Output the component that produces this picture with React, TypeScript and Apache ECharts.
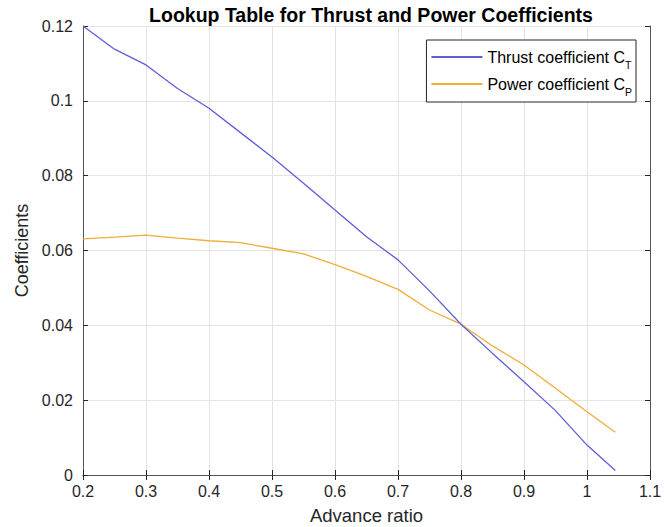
import React, { useEffect, useRef } from "react";
import * as echarts from "echarts";

const advanceRatio = [0.2, 0.25, 0.3, 0.35, 0.4, 0.45, 0.5, 0.55, 0.6, 0.65, 0.7, 0.75, 0.8, 0.85, 0.9, 0.95, 1.0, 1.045];
const thrustCoef = [0.12, 0.1138, 0.1096, 0.1033, 0.098, 0.0915, 0.085, 0.078, 0.0708, 0.0637, 0.0575, 0.0492, 0.0403, 0.0325, 0.0249, 0.0172, 0.008, 0.0012];
const powerCoef = [0.0631, 0.0636, 0.0641, 0.0633, 0.0626, 0.0621, 0.0606, 0.0591, 0.0562, 0.0531, 0.0496, 0.0441, 0.0403, 0.0345, 0.0294, 0.0232, 0.0169, 0.0114];

const xTicks = [0.2, 0.3, 0.4, 0.5, 0.6, 0.7, 0.8, 0.9, 1.0, 1.1];
const yTicks = [0, 0.02, 0.04, 0.06, 0.08, 0.1, 0.12];

const FONT = "Liberation Sans, Arial, sans-serif";
const DARK = "#262626";
const AXIS = "#555555";

export default function App() {
  const ref = useRef<HTMLDivElement>(null);
  useEffect(() => {
    if (!ref.current) return;
    const chart = echarts.init(ref.current, undefined, { renderer: "svg" });
    const tickStyle = { show: true, inside: true, length: 5, lineStyle: { color: DARK, width: 1 } };
    const option: any = {
      animation: false,
      backgroundColor: "#ffffff",
      title: {
        text: "Lookup Table for Thrust and Power Coefficients",
        left: 366,
        textAlign: "center",
        top: 0,
        textStyle: { fontFamily: FONT, fontSize: 19.5, fontWeight: "bold", color: "#000" },
      },
      grid: { left: 83, top: 26, width: 567, height: 449, show: false, outerBoundsMode: "none", containLabel: false },
      legend: {
        right: 31,
        top: 40,
        orient: "vertical",
        backgroundColor: "#fff",
        borderColor: DARK,
        borderWidth: 1,
        borderRadius: 0,
        padding: [9, 4, 5, 4],
        itemGap: 6,
        itemWidth: 51,
        itemHeight: 2,
        textStyle: {
          fontFamily: FONT,
          fontSize: 16,
          color: "#000",
          rich: {
            m: { fontFamily: FONT, fontSize: 16, lineHeight: 26, color: "#000" },
            s: { fontFamily: FONT, fontSize: 10.5, lineHeight: 11, color: "#000", verticalAlign: "bottom" },
          },
        },
        formatter: (name: string) =>
          name === "thrust" ? "{m|Thrust coefficient C}{s|T}" : "{m|Power coefficient C}{s|P}",
        data: ["thrust", "power"],
      },
      xAxis: [
        {
          type: "value",
          min: 0.2,
          max: 1.1,
          interval: 0.1,
          name: "Advance ratio",
          nameLocation: "middle",
          nameGap: 31,
          nameTextStyle: { fontFamily: FONT, fontSize: 18.5, color: DARK },
          axisLine: { show: true, lineStyle: { color: AXIS } },
          axisTick: tickStyle,
          axisLabel: {
            fontFamily: FONT,
            fontSize: 16,
            color: DARK,
            margin: 8,
            formatter: (v: number) => {
              const t = xTicks.find((x) => Math.abs(x - v) < 1e-6);
              return t === undefined ? "" : String(Number(t.toFixed(1)));
            },
          },
          splitLine: { show: true, lineStyle: { color: "#e3e3e3" } },
        },
        {
          type: "value",
          position: "top",
          min: 0.2,
          max: 1.1,
          interval: 0.1,
          axisLine: { show: true, lineStyle: { color: AXIS } },
          axisTick: tickStyle,
          axisLabel: { show: false },
          splitLine: { show: false },
        },
      ],
      yAxis: [
        {
          type: "value",
          min: 0,
          max: 0.12,
          interval: 0.02,
          name: "Coefficients",
          nameLocation: "middle",
          nameGap: 49,
          nameTextStyle: { fontFamily: FONT, fontSize: 18, color: DARK },
          axisLine: { show: true, lineStyle: { color: AXIS } },
          axisTick: tickStyle,
          axisLabel: {
            fontFamily: FONT,
            fontSize: 16,
            color: DARK,
            margin: 10,
            formatter: (v: number) => {
              const t = yTicks.find((y) => Math.abs(y - v) < 1e-9);
              return t === undefined ? "" : String(Number(t.toFixed(2)));
            },
          },
          splitLine: { show: true, lineStyle: { color: "#e3e3e3" } },
        },
        {
          type: "value",
          position: "right",
          min: 0,
          max: 0.12,
          interval: 0.02,
          axisLine: { show: true, lineStyle: { color: AXIS } },
          axisTick: tickStyle,
          axisLabel: { show: false },
          splitLine: { show: false },
        },
      ],
      series: [
        {
          name: "thrust",
          type: "line",
          symbol: "none",
          color: "#5e5ed8",
          lineStyle: { width: 1.3, color: "#5e5ed8" },
          data: advanceRatio.map((x, i) => [x, thrustCoef[i]]),
          z: 3,
        },
        {
          name: "power",
          type: "line",
          symbol: "none",
          color: "#f0ad3a",
          lineStyle: { width: 1.3, color: "#f0ad3a" },
          data: advanceRatio.map((x, i) => [x, powerCoef[i]]),
          z: 2,
        },
      ],
    };
    chart.setOption(option);
    return () => chart.dispose();
  }, []);
  return <div ref={ref} style={{ width: 667, height: 527, position: "absolute", left: 0, top: 0 }} />;
}
